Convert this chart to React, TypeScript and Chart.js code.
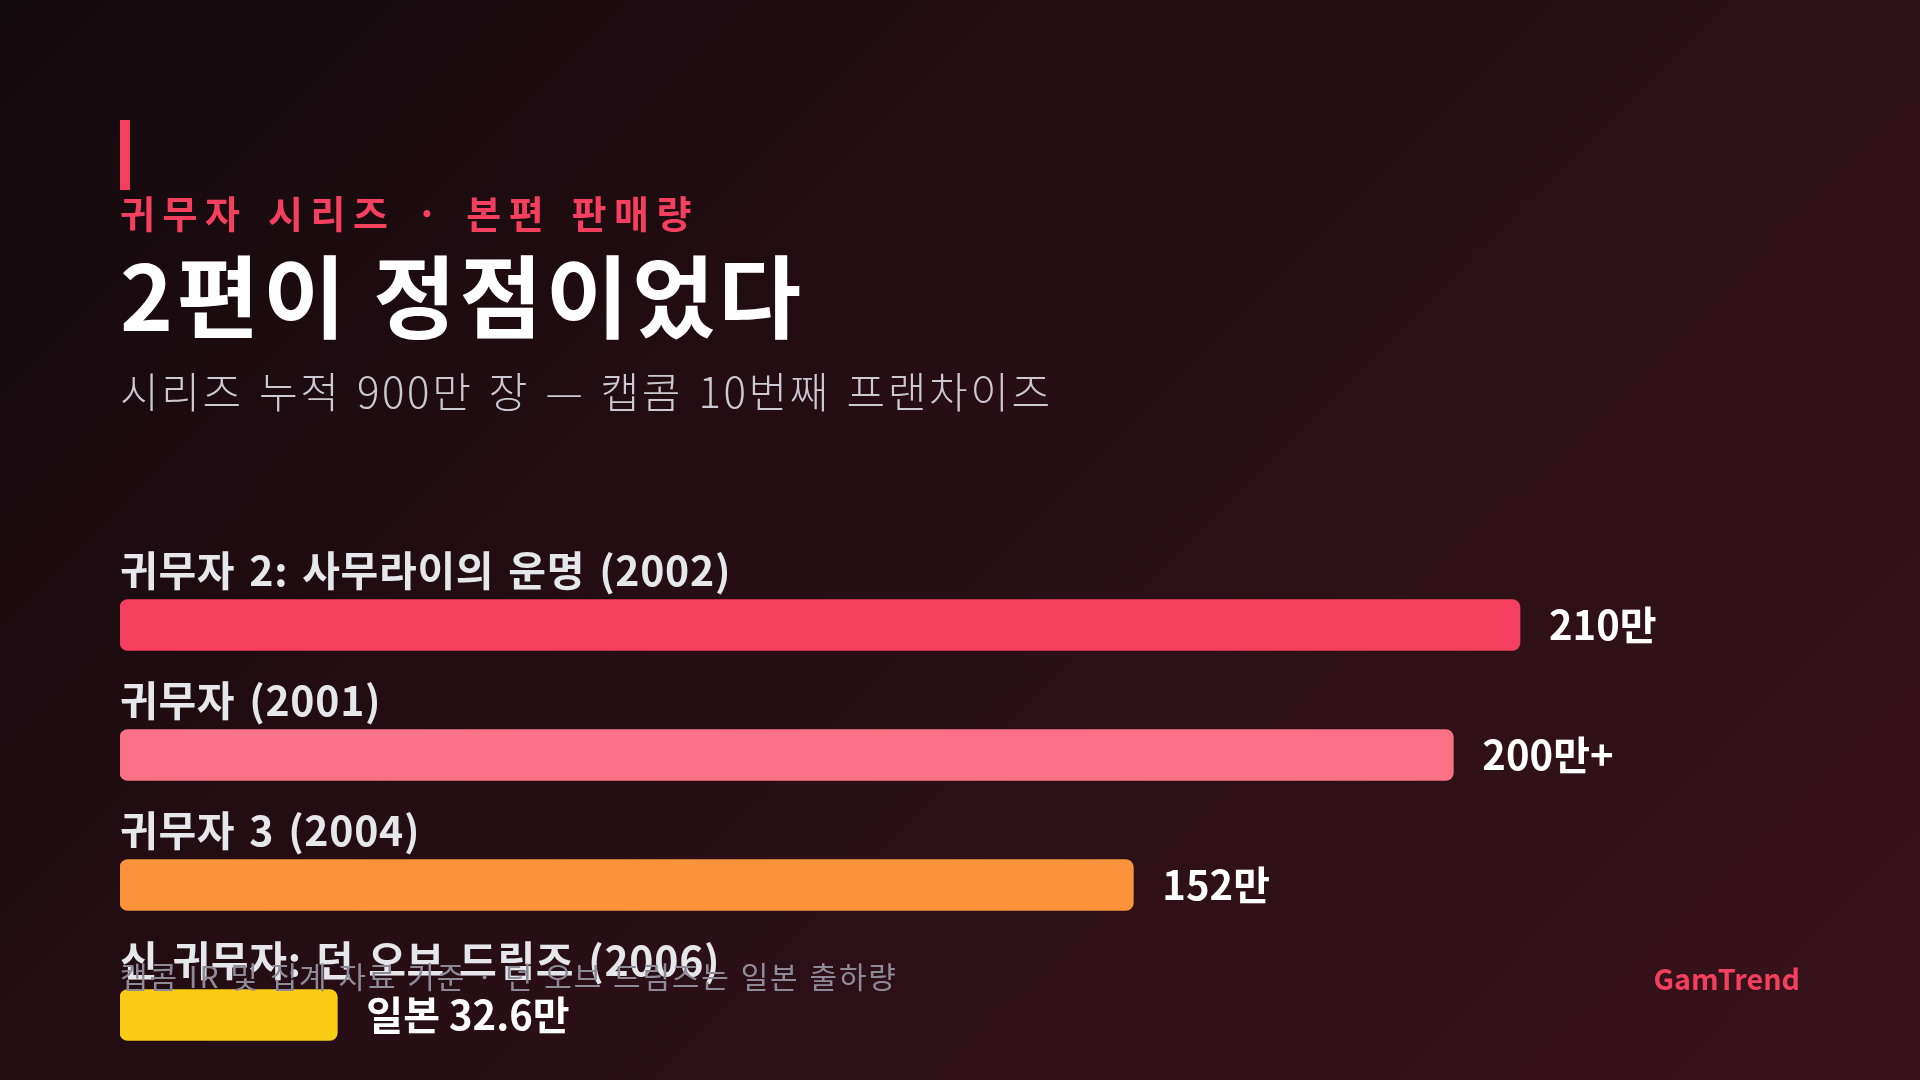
import React, { useEffect, useRef } from "react";
import { Chart, registerables } from "chart.js";

Chart.register(...registerables);

const categories = [
  "귀무자 2: 사무라이의 운명 (2002)",
  "귀무자 (2001)",
  "귀무자 3 (2004)",
  "신 귀무자: 던 오브 드림즈 (2006)",
];
const salesInMan = [210, 200, 152, 32.6];
const valueLabels = ["210만", "200만+", "152만", "일본 32.6만"];
const barColors = ["#f43f5e", "#fb7185", "#fb923c", "#facc15"];

const FONT = '"Noto Sans CJK KR", "Noto Sans", sans-serif';

const barLabelPlugin = {
  id: "barLabelPlugin",
  afterDatasetsDraw(chart: any) {
    const ctx = chart.ctx;
    const meta = chart.getDatasetMeta(0);
    meta.data.forEach((bar: any, i: number) => {
      const p = bar.getProps(["x", "y", "base"], true);
      ctx.save();
      ctx.textBaseline = "middle";
      ctx.textAlign = "left";
      ctx.font = `600 41px ${FONT}`;
      (ctx as any).letterSpacing = "0.7px";
      (ctx as any).wordSpacing = "4px";
      ctx.fillStyle = "#e5e7eb";
      ctx.fillText(categories[i], p.base, p.y - 54.5);
      (ctx as any).letterSpacing = "0px";
      (ctx as any).wordSpacing = "0px";
      ctx.font = `700 40px ${FONT}`;
      ctx.fillStyle = "#ffffff";
      ctx.fillText(valueLabels[i], p.x + 29, p.y);
      ctx.restore();
    });
  },
};

export default function App() {
  const canvasRef = useRef<HTMLCanvasElement | null>(null);

  useEffect(() => {
    const canvas = canvasRef.current;
    if (!canvas) return;
    const chart = new Chart(canvas, {
      type: "bar",
      data: {
        labels: categories,
        datasets: [
          {
            data: salesInMan,
            backgroundColor: barColors,
            borderRadius: 8,
            borderSkipped: false,
            barThickness: 51,
          },
        ],
      },
      options: {
        indexAxis: "y",
        responsive: false,
        animation: false,
        layout: { padding: { top: 560, left: 120, right: 120, bottom: 0 } },
        scales: {
          x: { display: false, min: 0, max: 252 },
          y: { display: false },
        },
        plugins: {
          legend: { display: false },
          tooltip: { enabled: false },
        },
      },
      plugins: [barLabelPlugin],
    });
    return () => chart.destroy();
  }, []);

  const abs = (s: React.CSSProperties): React.CSSProperties => ({
    position: "absolute",
    margin: 0,
    lineHeight: 1,
    whiteSpace: "nowrap",
    fontFamily: FONT,
    ...s,
  });

  return (
    <div
      style={{
        position: "fixed",
        left: 0,
        top: 0,
        width: 1920,
        height: 1080,
        overflow: "hidden",
        background:
          "linear-gradient(135deg, #130a0d 0%, #1f0c11 30%, #2b0f16 55%, #38131b 100%)",
      }}
    >
      <canvas
        ref={canvasRef}
        width={1920}
        height={1080}
        style={{ position: "absolute", left: 0, top: 0, width: 1920, height: 1080 }}
      />
      <div style={{ position: "absolute", left: 120, top: 120, width: 10, height: 70, background: "#f43f5e" }} />
      <div
        style={abs({
          left: 120,
          top: 193,
          fontSize: 38,
          fontWeight: 700,
          letterSpacing: "0.2em",
          wordSpacing: 4,
          color: "#f43f5e",
        })}
      >
        귀무자 시리즈 · 본편 판매량
      </div>
      <div
        style={abs({ left: 120, top: 247, fontSize: 90, fontWeight: 700, letterSpacing: 3.5, color: "#ffffff" })}
      >
        2편이 정점이었다
      </div>
      <div
        style={abs({
          left: 120,
          top: 369,
          fontSize: 42,
          fontWeight: 300,
          letterSpacing: 2.6,
          wordSpacing: 3.5,
          color: "#cbcad2",
        })}
      >
        시리즈 누적 900만 장 — 캡콤 10번째 프랜차이즈
      </div>
      <div
        style={abs({
          left: 120,
          top: 960,
          fontSize: 30,
          fontWeight: 400,
          letterSpacing: 1.8,
          wordSpacing: 1.5,
          color: "#8e8b99",
        })}
      >
        캡콤 IR 및 집계 자료 기준 · 던 오브 드림즈는 일본 출하량
      </div>
      <div style={abs({ right: 120, top: 964, fontSize: 28.7, fontWeight: 700, color: "#f43f5e" })}>
        GamTrend
      </div>
    </div>
  );
}
